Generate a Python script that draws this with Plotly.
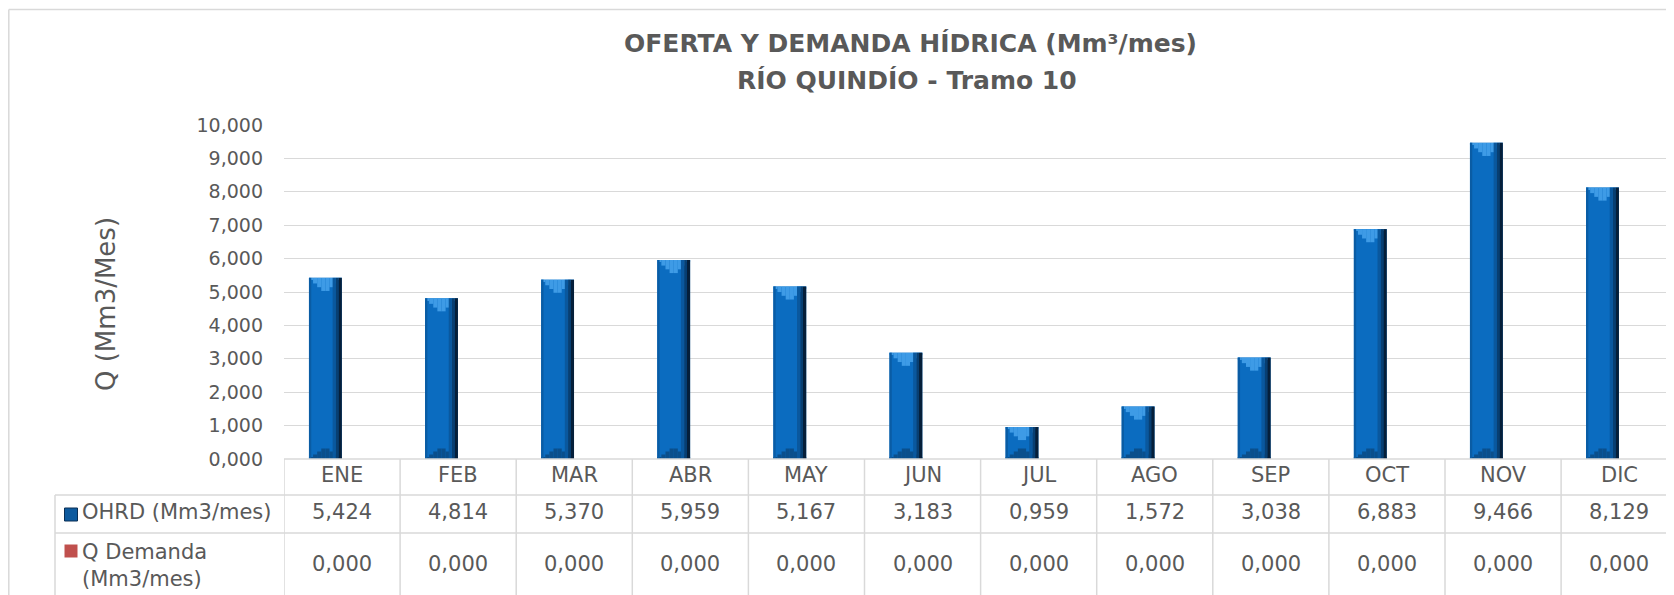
import plotly.graph_objects as go

# ---------------- data ----------------
months = ["ENE", "FEB", "MAR", "ABR", "MAY", "JUN", "JUL", "AGO", "SEP", "OCT", "NOV", "DIC"]
ohrd = [5.424, 4.814, 5.370, 5.959, 5.167, 3.183, 0.959, 1.572, 3.038, 6.883, 9.466, 8.129]
q_demanda = [0.0] * 12
series_names = ["OHRD (Mm3/mes)", "Q Demanda<br>(Mm3/mes)"]
y_ticks = [0, 1, 2, 3, 4, 5, 6, 7, 8, 9, 10]

# ---------------- layout geometry (absolute page pixels) ----------------
PAGE_W, PAGE_H = 1674, 595
BODY = 8                      # browser default body margin
FW, FH = PAGE_W - BODY, PAGE_H - BODY
PL, PT, PB_ABS = 284, 125, 459   # plot left, top, bottom in page px
L = PL - BODY
T = PT - BODY
B = PAGE_H - PB_ABS
R = 0
PW = FW - L - R
PH = FH - T - B
COL = 116.1  # px per category
XR = [-0.5, -0.5 + PW / COL]

def px(x):
    return (x - PL) / PW

def py(y):
    return (PB_ABS - y) / PH

GREY = "#595959"
LINE = "#D9D9D9"
FONT = "DejaVu Sans"

def fmt(v):
    return f"{v:.3f}".replace(".", ",")

BW = 0.283          # bar width (category units)
OFF = -0.285        # offset of OHRD bar
fig = go.Figure()

# base bar
fig.add_trace(go.Bar(x=months, y=ohrd, name=series_names[0], offset=OFF, width=BW,
                     marker=dict(color="#0B6CC0", line=dict(width=0)), showlegend=False))

# top chevron highlight (lighter triangle) & bottom darker chevron
unit_px = PH / 10.0
depth = 15 / unit_px
nstr = 8
for k in range(nstr):
    t0 = k / nstr
    t1 = (k + 1) / nstr
    tc = (t0 + t1) / 2
    d = depth * (1 - abs(2 * tc - 1))
    fig.add_trace(go.Bar(x=months, y=[d] * 12, base=[v - d for v in ohrd],
                         offset=OFF + t0 * BW, width=(t1 - t0) * BW,
                         marker=dict(color="#3E9BE6", line=dict(width=0)),
                         showlegend=False, hoverinfo="skip"))
    fig.add_trace(go.Bar(x=months, y=[d * 0.8] * 12, base=[0] * 12,
                         offset=OFF + t0 * BW, width=(t1 - t0) * BW,
                         marker=dict(color="#0A4F8C", line=dict(width=0)),
                         showlegend=False, hoverinfo="skip"))

# side shading strips
strips = [(0.0, 0.07, "#0A5CA4"), (0.72, 0.82, "#0A589E"), (0.82, 0.90, "#083F72"),
          (0.90, 1.0, "#051F3A")]
for a, b, c in strips:
    fig.add_trace(go.Bar(x=months, y=ohrd, offset=OFF + a * BW, width=(b - a) * BW,
                         marker=dict(color=c, line=dict(width=0)),
                         showlegend=False, hoverinfo="skip"))

# Q Demanda (zero) bars
fig.add_trace(go.Bar(x=months, y=q_demanda, name="Q Demanda (Mm3/mes)", offset=0, width=BW,
                     marker=dict(color="#C0504D", line=dict(width=0)), showlegend=False))

shapes = []
ann = []

# outer chart border (top + left visible)
shapes.append(dict(type="line", xref="paper", yref="paper", x0=px(8.8), x1=px(PAGE_W + 5),
                   y0=py(9.5), y1=py(9.5), line=dict(color=LINE, width=1.5)))
shapes.append(dict(type="line", xref="paper", yref="paper", x0=px(8.8), x1=px(8.8),
                   y0=py(9.5), y1=py(PAGE_H + 5), line=dict(color=LINE, width=1.5)))

# data table grid
ROW0, ROW1, ROW2 = 459, 495, 533
LEGX = 55
for i in range(len(months) + 1):
    shapes.append(dict(type="line", xref="x", yref="paper", x0=i - 0.5, x1=i - 0.5,
                       y0=py(ROW0), y1=py(PAGE_H + 5), line=dict(color=LINE, width=1.5)))
shapes.append(dict(type="line", xref="paper", yref="paper", x0=px(LEGX), x1=px(LEGX),
                   y0=py(ROW1), y1=py(PAGE_H + 5), line=dict(color=LINE, width=1.5)))
for yy in (ROW0, ROW1, ROW2):
    x0 = PL if yy == ROW0 else LEGX
    shapes.append(dict(type="line", xref="paper", yref="paper", x0=px(x0), x1=px(PAGE_W + 5),
                       y0=py(yy), y1=py(yy), line=dict(color=LINE, width=1.5)))

# legend keys
shapes.append(dict(type="rect", xref="paper", yref="paper", x0=px(64.5), x1=px(77.5),
                   y0=py(508), y1=py(521), fillcolor="#0D5A9E",
                   line=dict(color="#0A2F55", width=1)))
shapes.append(dict(type="rect", xref="paper", yref="paper", x0=px(64.5), x1=px(77.5),
                   y0=py(544.5), y1=py(557.5), fillcolor="#C0504D", line=dict(width=0)))

tf = dict(family=FONT, size=21, color=GREY)
for m, v, d in zip(months, ohrd, q_demanda):
    ann.append(dict(x=m, y=py(475), xref="x", yref="paper", text=m, showarrow=False,
                    font=tf, xanchor="center", yanchor="middle"))
    ann.append(dict(x=m, y=py(512), xref="x", yref="paper", text=fmt(v), showarrow=False,
                    font=tf, xanchor="center", yanchor="middle"))
    ann.append(dict(x=m, y=py(564), xref="x", yref="paper", text=fmt(d), showarrow=False,
                    font=tf, xanchor="center", yanchor="middle"))

ann.append(dict(x=px(80), y=py(512), xref="paper", yref="paper", text=series_names[0],
                showarrow=False, font=tf, xanchor="left", yanchor="middle"))
ann.append(dict(x=px(80), y=py(565), xref="paper", yref="paper", text=series_names[1],
                showarrow=False, font=tf, xanchor="left", yanchor="middle", align="left"))

# titles
ann.append(dict(x=px(910), y=py(44), xref="paper", yref="paper",
                text="<b>OFERTA Y DEMANDA HÍDRICA (Mm³/mes)</b>", showarrow=False,
                font=dict(family=FONT, size=25, color=GREY), xanchor="center", yanchor="middle"))
ann.append(dict(x=px(907), y=py(80), xref="paper", yref="paper",
                text="<b>RÍO QUINDÍO - Tramo 10</b>", showarrow=False,
                font=dict(family=FONT, size=25, color=GREY), xanchor="center", yanchor="middle"))
# y-axis title
ann.append(dict(x=px(106), y=py(304), xref="paper", yref="paper", text="Q (Mm3/Mes)",
                showarrow=False, textangle=-90,
                font=dict(family=FONT, size=26, color=GREY), xanchor="center", yanchor="middle"))

fig.update_layout(
    width=FW, height=FH, autosize=False,
    margin=dict(l=L, r=R, t=T, b=B, pad=0),
    paper_bgcolor="white", plot_bgcolor="white",
    barmode="overlay", separators=",.",
    shapes=shapes, annotations=ann, showlegend=False,
    xaxis=dict(type="category", categoryarray=months, range=XR, showticklabels=False,
               showgrid=False, zeroline=False, showline=False, ticks="", fixedrange=True),
    yaxis=dict(range=[0, 10], tickvals=y_ticks, tickformat=".3f", showgrid=True,
               gridcolor=LINE, gridwidth=1.3, zeroline=False, showline=False, ticks="",
               tickfont=dict(family=FONT, size=19, color=GREY), ticklabelstandoff=20,
               fixedrange=True),
)

fig.write_html("out.html")
